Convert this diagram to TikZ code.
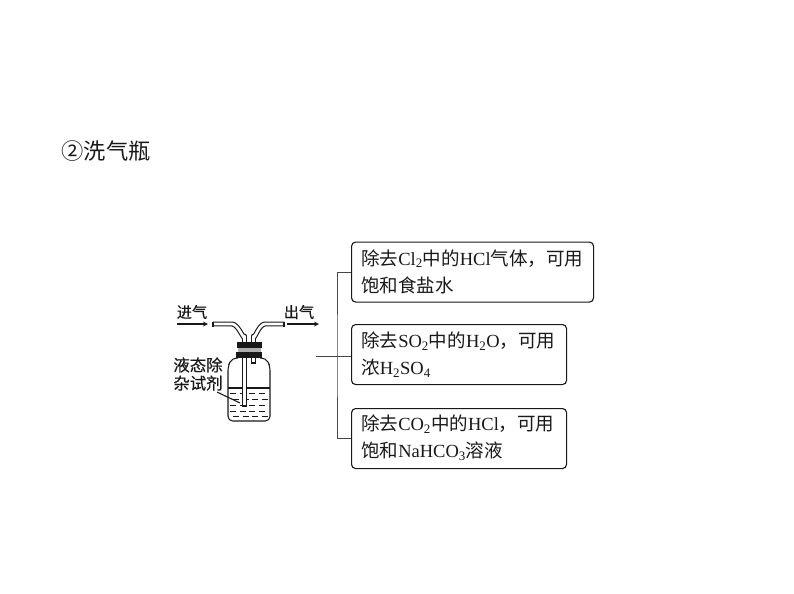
\documentclass[tikz,border=0pt]{standalone}
\usepackage{fontspec}
\setmainfont{Liberation Serif}
\newfontfamily\cjk{Noto Sans CJK SC}
\newfontfamily\cjkheavy[FakeBold=0.35]{Noto Sans CJK SC}
\usetikzlibrary{positioning}
\definecolor{inkblack}{rgb}{0.10, 0.10, 0.10}
\newcommand{\zh}[1]{{\cjk #1}}
\begin{document}
\begin{tikzpicture}[x=0.03cm, y=-0.03cm,
  notebox/.style={draw=inkblack, line width=0.95pt, rounded corners=3.5pt, minimum height=1.8cm, anchor=north west, inner sep=0pt},
  notetext/.style={align=left, font=\fontsize{15.8}{23}\selectfont, text=inkblack, anchor=west, inner sep=0pt},
  flowlabel/.style={font=\fontsize{13}{15.5}\cjkheavy\selectfont, text=inkblack, inner sep=0pt},
  tube/.style={draw=inkblack, double=white, line width=0.95pt, double distance=2.3pt, line join=round},
  glass/.style={draw=inkblack, line width=0.9pt},
  liquid/.style={draw=inkblack, line width=0.65pt},
  wire/.style={draw=inkblack!80, line width=0.75pt},
  flow/.style={draw=inkblack, line width=0.9pt, ->, >=stealth}
]
\useasboundingbox (0,0) rectangle (794,593);
\fill[white] (0,0) rectangle (794,593);
%
\node[font=\fontsize{19}{20}\selectfont, text=inkblack, inner sep=0pt] (title) at (106,151) {\zh{②洗气瓶}};

% boxes
\node[notebox, minimum width=7.26cm] (clbox) at (351,241.5) {};
\node[notebox, minimum width=6.45cm] (sobox) at (351,324) {};
\node[notebox, minimum width=6.45cm] (cobox) at (351,408) {};

\node[notetext] (cltext) at (361,271.5) {\zh{除去}Cl\textsubscript{2}\zh{中的}HCl\zh{气体，可用}\\\zh{饱和食盐水}};
\node[notetext] (sotext) at (361,354.5) {\zh{除去}SO\textsubscript{2}\zh{中的}H\textsubscript{2}O\zh{，可用}\\\zh{浓}H\textsubscript{2}SO\textsubscript{4}};
\node[notetext] (cotext) at (361,437.5) {\zh{除去}CO\textsubscript{2}\zh{中的}HCl\zh{，可用}\\\zh{饱和}NaHCO\textsubscript{3}\zh{溶液}};

% bracket
\coordinate (stem) at (316,356);
\coordinate (spine) at (337,356);
\draw[wire] (clbox.west) -| (spine) |- (cobox.west);
\draw[wire] (stem) -- (stem -| sobox.west);

% bottle
\draw[glass, rounded corners=4pt] (238,358) -- (232,358) -- (228,366) -- (228,421) -- (270,421) -- (270,366) -- (266,358) -- (260,358);
\draw[glass] (228,388) -- (270,388);
\foreach \yy/\xa in {393/230, 399/233, 405/230, 411/230, 416/233} {
  \foreach \n in {0,1,2,3} {
    \draw[liquid] (\xa+\n*9.5,\yy) -- ++(6,0);
  }
}

% tubes
\draw[tube] (213,324) -- (232,324) to[out=0, in=270] (244.5,336) -- (244.5,406);
\draw[tube] (284,324) -- (265,324) to[out=180, in=270] (253.5,336) -- (253.5,363);
\draw[glass] (213,321.5) -- (213,326.5);
\draw[glass] (284,321.5) -- (284,326.5);
\draw[glass] (251,363) -- (256,363);
\draw[glass] (242,406) -- (247,406);

% stopper
\fill[inkblack] (237,342) rectangle (262,348);
\fill[inkblack!35] (238,348) rectangle (261,352);
\fill[inkblack] (236,352) rectangle (262,358);

% flow labels
\coordinate (inend) at (208,324);
\coordinate (instart) at (177,324);
\coordinate (outstart) at (287,324);
\coordinate (outend) at (319,324);
\draw[flow] (instart) -- (inend);
\draw[flow] (outstart) -- (outend);
\node[flowlabel] (inlabel) at (192,312) {进气};
\node[flowlabel] (outlabel) at (299,312) {出气};
\node[flowlabel, align=center, font=\fontsize{14}{15.5}\cjkheavy\selectfont] (reagent) at (198,374) {液态除\\杂试剂};
\coordinate (reagentend) at (240,403);
\draw[glass] (217,392) -- (reagentend);
\end{tikzpicture}
\end{document}
